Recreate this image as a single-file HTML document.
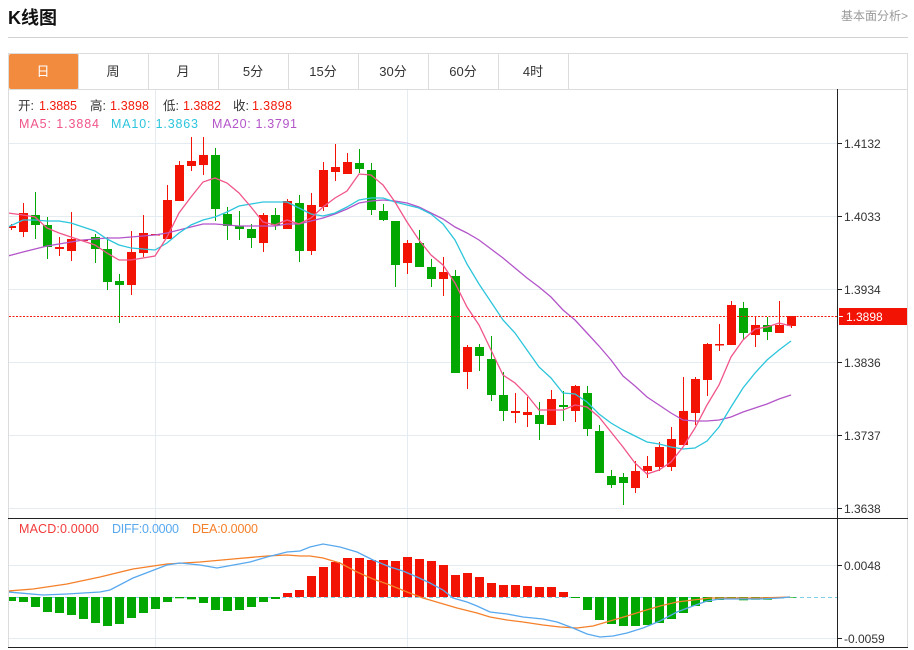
<!DOCTYPE html>
<html><head><meta charset="utf-8"><style>
html,body{margin:0;padding:0;background:#fff;width:914px;height:650px;overflow:hidden}
svg{display:block}
text{font-family:"Liberation Sans","Noto Sans CJK SC",sans-serif}
</style></head><body>
<svg width="914" height="650" viewBox="0 0 914 650" xmlns="http://www.w3.org/2000/svg">
<defs><clipPath id="pc"><rect x="9" y="90" width="828" height="428"/></clipPath>
<clipPath id="mc"><rect x="9" y="519" width="828" height="128"/></clipPath></defs>
<!-- header -->
<text x="8" y="24" font-size="18" font-weight="bold" fill="#111">K线图</text>
<text x="908" y="20" font-size="12" fill="#999" text-anchor="end">基本面分析&gt;</text>
<line x1="8" y1="37.5" x2="908" y2="37.5" stroke="#d2d2d2"/>
<!-- tabs -->
<rect x="8.5" y="53.5" width="899" height="36" fill="#fff" stroke="#dcdcdc"/>
<rect x="9" y="54" width="69.5" height="35" rx="2" fill="#f28b3e"/>
<g stroke="#dcdcdc"><line x1="78.5" y1="54" x2="78.5" y2="89"/><line x1="148.5" y1="54" x2="148.5" y2="89"/><line x1="218.5" y1="54" x2="218.5" y2="89"/><line x1="288.5" y1="54" x2="288.5" y2="89"/><line x1="358.5" y1="54" x2="358.5" y2="89"/><line x1="428.5" y1="54" x2="428.5" y2="89"/><line x1="498.5" y1="54" x2="498.5" y2="89"/><line x1="568.5" y1="54" x2="568.5" y2="89"/></g>
<g font-size="13" text-anchor="middle" fill="#333">
<text x="43" y="76" fill="#fff">日</text><text x="113" y="76">周</text><text x="183" y="76">月</text><text x="253" y="76">5分</text><text x="323" y="76">15分</text><text x="393" y="76">30分</text><text x="463" y="76">60分</text><text x="533" y="76">4时</text></g>
<!-- frame -->
<line x1="8.5" y1="89" x2="8.5" y2="648" stroke="#dcdcdc"/>
<line x1="907.5" y1="89" x2="907.5" y2="648" stroke="#dcdcdc"/>
<!-- grid -->
<g stroke="#e4ebf1" stroke-width="1">
<line x1="9" y1="143.5" x2="837" y2="143.5"/><line x1="9" y1="216.5" x2="837" y2="216.5"/><line x1="9" y1="289.5" x2="837" y2="289.5"/><line x1="9" y1="362.5" x2="837" y2="362.5"/><line x1="9" y1="435.5" x2="837" y2="435.5"/><line x1="9" y1="508.5" x2="837" y2="508.5"/>
<line x1="155.5" y1="90" x2="155.5" y2="647"/><line x1="407.5" y1="90" x2="407.5" y2="647"/>
<line x1="9" y1="565.5" x2="837" y2="565.5"/><line x1="9" y1="638.5" x2="837" y2="638.5"/>
</g>
<!-- legend -->
<g font-size="12.5">
<text x="18" y="110" fill="#333">开:</text><text x="39" y="110" fill="#f21a0a" textLength="38">1.3885</text>
<text x="90" y="110" fill="#333">高:</text><text x="110" y="110" fill="#f21a0a" textLength="39">1.3898</text>
<text x="163" y="110" fill="#333">低:</text><text x="183" y="110" fill="#f21a0a" textLength="38">1.3882</text>
<text x="233" y="110" fill="#333">收:</text><text x="252" y="110" fill="#f21a0a" textLength="40">1.3898</text>
<text x="19" y="128" fill="#f0558a" textLength="80">MA5: 1.3884</text>
<text x="111" y="128" fill="#2cc5dc" textLength="87">MA10: 1.3863</text>
<text x="212" y="128" fill="#b355c9" textLength="85">MA20: 1.3791</text>
<text x="19" y="533" fill="#f23b3b" textLength="80">MACD:0.0000</text>
<text x="112" y="533" fill="#58a8ee" textLength="67">DIFF:0.0000</text>
<text x="192" y="533" fill="#f5802a" textLength="66">DEA:0.0000</text>
</g>
<!-- candles -->
<g clip-path="url(#pc)">
<g fill="#f21305">
<rect x="11" y="224" width="1" height="6"/><rect x="7" y="226" width="9" height="2"/>
<rect x="23" y="203" width="1" height="34"/><rect x="19" y="213" width="9" height="19"/>
<rect x="59" y="237" width="1" height="19"/><rect x="55" y="247" width="9" height="2"/>
<rect x="71" y="212" width="1" height="49"/><rect x="67" y="239" width="9" height="12"/>
<rect x="79" y="239.5" width="9" height="1.5"/>
<rect x="131" y="231" width="1" height="64"/><rect x="127" y="252" width="9" height="33"/>
<rect x="143" y="215" width="1" height="42"/><rect x="139" y="233" width="9" height="20"/>
<rect x="151" y="234" width="9" height="1.5"/>
<rect x="167" y="185" width="1" height="54"/><rect x="163" y="200" width="9" height="39"/>
<rect x="179" y="161" width="1" height="40"/><rect x="175" y="165" width="9" height="36"/>
<rect x="191" y="137" width="1" height="34"/><rect x="187" y="161" width="9" height="5"/>
<rect x="203" y="137" width="1" height="38"/><rect x="199" y="155" width="9" height="10"/>
<rect x="263" y="213" width="1" height="39"/><rect x="259" y="215" width="9" height="28"/>
<rect x="287" y="199" width="1" height="30"/><rect x="283" y="201" width="9" height="28"/>
<rect x="311" y="193" width="1" height="62"/><rect x="307" y="205" width="9" height="46"/>
<rect x="323" y="162" width="1" height="49"/><rect x="319" y="170" width="9" height="37"/>
<rect x="335" y="144" width="1" height="37"/><rect x="331" y="167" width="9" height="5"/>
<rect x="347" y="153" width="1" height="21"/><rect x="343" y="162" width="9" height="12"/>
<rect x="407" y="240" width="1" height="34"/><rect x="403" y="243" width="9" height="20"/>
<rect x="443" y="257" width="1" height="39"/><rect x="439" y="272" width="9" height="7"/>
<rect x="467" y="345" width="1" height="44"/><rect x="463" y="347" width="9" height="25"/>
<rect x="515" y="393" width="1" height="30"/><rect x="511" y="411" width="9" height="2"/>
<rect x="527" y="397" width="1" height="30"/><rect x="523" y="412" width="9" height="3"/>
<rect x="551" y="390" width="1" height="35"/><rect x="547" y="399" width="9" height="26"/>
<rect x="575" y="385" width="1" height="37"/><rect x="571" y="386" width="9" height="25"/>
<rect x="635" y="461" width="1" height="32"/><rect x="631" y="471" width="9" height="17"/>
<rect x="647" y="456" width="1" height="22"/><rect x="643" y="466" width="9" height="5"/>
<rect x="659" y="442" width="1" height="29"/><rect x="655" y="447" width="9" height="20"/>
<rect x="671" y="427" width="1" height="44"/><rect x="667" y="439" width="9" height="28"/>
<rect x="683" y="377" width="1" height="68"/><rect x="679" y="411" width="9" height="34"/>
<rect x="695" y="377" width="1" height="48"/><rect x="691" y="379" width="9" height="34"/>
<rect x="707" y="343" width="1" height="53"/><rect x="703" y="344" width="9" height="36"/>
<rect x="719" y="324" width="1" height="27"/><rect x="715" y="344" width="9" height="1.5"/>
<rect x="731" y="301" width="1" height="44"/><rect x="727" y="305" width="9" height="40"/>
<rect x="755" y="316" width="1" height="31"/><rect x="751" y="325" width="9" height="10"/>
<rect x="779" y="301" width="1" height="32"/><rect x="775" y="325" width="9" height="8"/>
<rect x="791" y="316" width="1" height="12"/><rect x="787" y="316" width="9" height="10"/>
</g>
<g fill="#02a702">
<rect x="35" y="192" width="1" height="47"/><rect x="31" y="215" width="9" height="10"/>
<rect x="47" y="217" width="1" height="42"/><rect x="43" y="225" width="9" height="22"/>
<rect x="95" y="234" width="1" height="29"/><rect x="91" y="237" width="9" height="12"/>
<rect x="107" y="237" width="1" height="53"/><rect x="103" y="249" width="9" height="33"/>
<rect x="119" y="274" width="1" height="49"/><rect x="115" y="281" width="9" height="4"/>
<rect x="215" y="148" width="1" height="73"/><rect x="211" y="155" width="9" height="54"/>
<rect x="227" y="207" width="1" height="33"/><rect x="223" y="214" width="9" height="12"/>
<rect x="239" y="211" width="1" height="29"/><rect x="235" y="226" width="9" height="3"/>
<rect x="251" y="224" width="1" height="24"/><rect x="247" y="229" width="9" height="9"/>
<rect x="275" y="208" width="1" height="22"/><rect x="271" y="215" width="9" height="10"/>
<rect x="299" y="195" width="1" height="67"/><rect x="295" y="203" width="9" height="48"/>
<rect x="359" y="149" width="1" height="24"/><rect x="355" y="163" width="9" height="6"/>
<rect x="371" y="163" width="1" height="52"/><rect x="367" y="170" width="9" height="40"/>
<rect x="383" y="204" width="1" height="17"/><rect x="379" y="211" width="9" height="9"/>
<rect x="395" y="221" width="1" height="66"/><rect x="391" y="221" width="9" height="44"/>
<rect x="419" y="230" width="1" height="37"/><rect x="415" y="243" width="9" height="24"/>
<rect x="431" y="259" width="1" height="28"/><rect x="427" y="267" width="9" height="12"/>
<rect x="455" y="270" width="1" height="103"/><rect x="451" y="276" width="9" height="97"/>
<rect x="479" y="344" width="1" height="27"/><rect x="475" y="347" width="9" height="9"/>
<rect x="491" y="336" width="1" height="65"/><rect x="487" y="359" width="9" height="36"/>
<rect x="503" y="372" width="1" height="49"/><rect x="499" y="395" width="9" height="16"/>
<rect x="539" y="402" width="1" height="38"/><rect x="535" y="415" width="9" height="9"/>
<rect x="563" y="391" width="1" height="30"/><rect x="559" y="405" width="9" height="2"/>
<rect x="587" y="386" width="1" height="50"/><rect x="583" y="393" width="9" height="36"/>
<rect x="599" y="425" width="1" height="48"/><rect x="595" y="431" width="9" height="42"/>
<rect x="611" y="470" width="1" height="18"/><rect x="607" y="476" width="9" height="9"/>
<rect x="623" y="473" width="1" height="32"/><rect x="619" y="477" width="9" height="6"/>
<rect x="743" y="302" width="1" height="37"/><rect x="739" y="308" width="9" height="25"/>
<rect x="767" y="317" width="1" height="23"/><rect x="763" y="325" width="9" height="7"/>
</g>
<!-- MA lines -->
<polyline fill="none" stroke="#b355c9" stroke-width="1.3" points="8,256 23,252 35,249 47,246 59,244 71,242 83,240 95,239 107,238 119,238 131,237 143,236 155,235 167,233 179,230 191,227 203,224 215,224 227,225 239,226 251,226 263,226 275,226 287,224 299,224 311,221 323,218 335,214 347,209 359,203 371,201 383,200 395,201 407,203 419,207 431,213 443,219 455,227 467,233 479,240 491,249 503,258 515,268 527,278 539,287 551,297 563,310 575,320 587,333 599,346 611,360 623,376 635,386 647,397 659,405 671,413 683,420 695,421 707,421 719,420 731,417 743,412 755,408 767,404 779,399 791,395"/>
<polyline fill="none" stroke="#2cc5dc" stroke-width="1.3" points="8,227 23,220 35,220 47,221 59,221 71,223 83,227 95,231 107,239 119,245 131,248 143,249 155,250 167,243 179,233 191,225 203,220 215,217 227,212 239,206 251,204 263,202 275,202 287,202 299,208 311,214 323,216 335,213 347,207 359,200 371,198 383,198 395,202 407,205 419,208 431,214 443,224 455,240 467,264 479,284 491,302 503,320 515,333 527,350 539,367 551,378 563,393 575,394 587,402 599,414 611,423 623,430 635,436 647,442 659,444 671,447 683,449 695,448 707,441 719,427 731,407 743,388 755,373 767,360 779,350 791,341"/>
<polyline fill="none" stroke="#f0558a" stroke-width="1.3" points="8,213 23,215 35,217 47,228 59,233 71,237 83,241 95,245 107,253 119,260 131,260 143,258 155,256 167,237 179,213 191,197 203,182 215,178 227,183 239,193 251,207 263,222 275,225 287,220 299,224 311,218 323,207 335,198 347,191 359,174 371,175 383,185 395,202 407,222 419,240 431,255 443,265 455,283 467,307 479,325 491,350 503,375 515,383 527,395 539,410 551,410 563,410 575,405 587,407 599,417 611,432 623,447 635,463 647,474 659,470 671,462 683,447 695,428 707,405 719,385 731,357 743,340 755,329 767,327 779,323 791,326"/>
</g>
<!-- current price line -->
<line x1="9" y1="316.5" x2="837" y2="316.5" stroke="#f21a0a" stroke-width="1" stroke-dasharray="2,1.5"/>
<!-- axes -->
<line x1="8" y1="518.5" x2="908" y2="518.5" stroke="#222"/>
<line x1="8" y1="647.5" x2="908" y2="647.5" stroke="#222"/>
<line x1="837.5" y1="89" x2="837.5" y2="648" stroke="#222"/>
<g stroke="#222"><line x1="837" y1="143.5" x2="842" y2="143.5"/><line x1="837" y1="216.5" x2="842" y2="216.5"/><line x1="837" y1="289.5" x2="842" y2="289.5"/><line x1="837" y1="362.5" x2="842" y2="362.5"/><line x1="837" y1="435.5" x2="842" y2="435.5"/><line x1="837" y1="508.5" x2="842" y2="508.5"/><line x1="837" y1="565.5" x2="842" y2="565.5"/><line x1="837" y1="638.5" x2="842" y2="638.5"/></g>
<g font-size="12" fill="#333">
<text x="844" y="148">1.4132</text><text x="844" y="221">1.4033</text><text x="844" y="294">1.3934</text><text x="844" y="367">1.3836</text><text x="844" y="440">1.3737</text><text x="844" y="513">1.3638</text>
<text x="844" y="570">0.0048</text><text x="844" y="643">-0.0059</text></g>
<rect x="839" y="308" width="68" height="17" fill="#f21305"/>
<line x1="839" y1="316.5" x2="843" y2="316.5" stroke="#fff"/>
<text x="846" y="321" font-size="12" fill="#fff">1.3898</text>
<!-- MACD -->
<g clip-path="url(#mc)">
<line x1="9" y1="597.5" x2="837" y2="597.5" stroke="#7fcfe6" stroke-dasharray="4,3"/>
<g fill="#02a702">
<rect x="7" y="597" width="9" height="4"/><rect x="19" y="597" width="9" height="5"/><rect x="31" y="597" width="9" height="10"/><rect x="43" y="597" width="9" height="15"/><rect x="55" y="597" width="9" height="16"/><rect x="67" y="597" width="9" height="18"/><rect x="79" y="597" width="9" height="22"/><rect x="91" y="597" width="9" height="26"/><rect x="103" y="597" width="9" height="29"/><rect x="115" y="597" width="9" height="27"/><rect x="127" y="597" width="9" height="21"/><rect x="139" y="597" width="9" height="16"/><rect x="151" y="597" width="9" height="12"/><rect x="163" y="597" width="9" height="5"/><rect x="175" y="597" width="9" height="1.3"/><rect x="187" y="597" width="9" height="2.3"/><rect x="199" y="597" width="9" height="6"/><rect x="211" y="597" width="9" height="13"/><rect x="223" y="597" width="9" height="14"/><rect x="235" y="597" width="9" height="13"/><rect x="247" y="597" width="9" height="10"/><rect x="259" y="597" width="9" height="5"/><rect x="271" y="597" width="9" height="2"/>
<rect x="571" y="597" width="9" height="1"/><rect x="583" y="597" width="9" height="13"/><rect x="595" y="597" width="9" height="23"/><rect x="607" y="597" width="9" height="27"/><rect x="619" y="597" width="9" height="29"/><rect x="631" y="597" width="9" height="29"/><rect x="643" y="597" width="9" height="28"/><rect x="655" y="597" width="9" height="26"/><rect x="667" y="597" width="9" height="22"/><rect x="679" y="597" width="9" height="16"/><rect x="691" y="597" width="9" height="9"/><rect x="703" y="597" width="9" height="5"/><rect x="715" y="597" width="9" height="3"/><rect x="727" y="597" width="9" height="1.3"/><rect x="739" y="597" width="9" height="3.3"/><rect x="751" y="597" width="9" height="2.7"/><rect x="763" y="597" width="9" height="2.7"/><rect x="775" y="597" width="9" height="1.3"/><rect x="787" y="597" width="9" height="0.6"/>
</g>
<g fill="#f21305">
<rect x="283" y="593" width="9" height="4"/><rect x="295" y="590" width="9" height="7"/><rect x="307" y="576" width="9" height="21"/><rect x="319" y="567" width="9" height="30"/><rect x="331" y="562" width="9" height="35"/><rect x="343" y="558" width="9" height="39"/><rect x="355" y="558" width="9" height="39"/><rect x="367" y="560" width="9" height="37"/><rect x="379" y="560" width="9" height="37"/><rect x="391" y="561" width="9" height="36"/><rect x="403" y="557" width="9" height="40"/><rect x="415" y="559" width="9" height="38"/><rect x="427" y="561" width="9" height="36"/><rect x="439" y="565" width="9" height="32"/><rect x="451" y="575" width="9" height="22"/><rect x="463" y="573" width="9" height="24"/><rect x="475" y="577" width="9" height="20"/><rect x="487" y="583" width="9" height="14"/><rect x="499" y="585" width="9" height="12"/><rect x="511" y="585" width="9" height="12"/><rect x="523" y="586" width="9" height="11"/><rect x="535" y="587" width="9" height="10"/><rect x="547" y="587" width="9" height="10"/><rect x="559" y="592" width="9" height="5"/>
</g>
<polyline fill="none" stroke="#f5802a" stroke-width="1.3" points="8,591 33,589 67,584 100,577 133,569 167,564 200,562 233,559 267,556 287,555 300,556 310,556 323,558 340,563 357,572 373,579 390,585 407,592 423,598 440,603 457,608 477,613 490,617 507,620 523,622 543,625 560,627 577,628 593,626 610,621 627,616 643,611 660,606 677,602 693,600 710,598 727,598 760,598 790,597"/>
<polyline fill="none" stroke="#58a8ee" stroke-width="1.3" points="8,592 43,595 67,594 100,592 110,590 133,578 167,565 180,563 200,565 217,568 250,562 267,557 287,552 300,551 310,547 323,544 340,547 357,552 373,560 390,567 403,571 417,577 430,583 443,590 453,598 467,602 477,606 490,612 507,614 523,617 543,619 557,622 573,628 587,634 600,637 613,636 627,633 643,628 660,621 677,612 693,606 707,601 720,599 740,599 760,599 780,598 790,597"/>
</g>
</svg>
</body></html>
